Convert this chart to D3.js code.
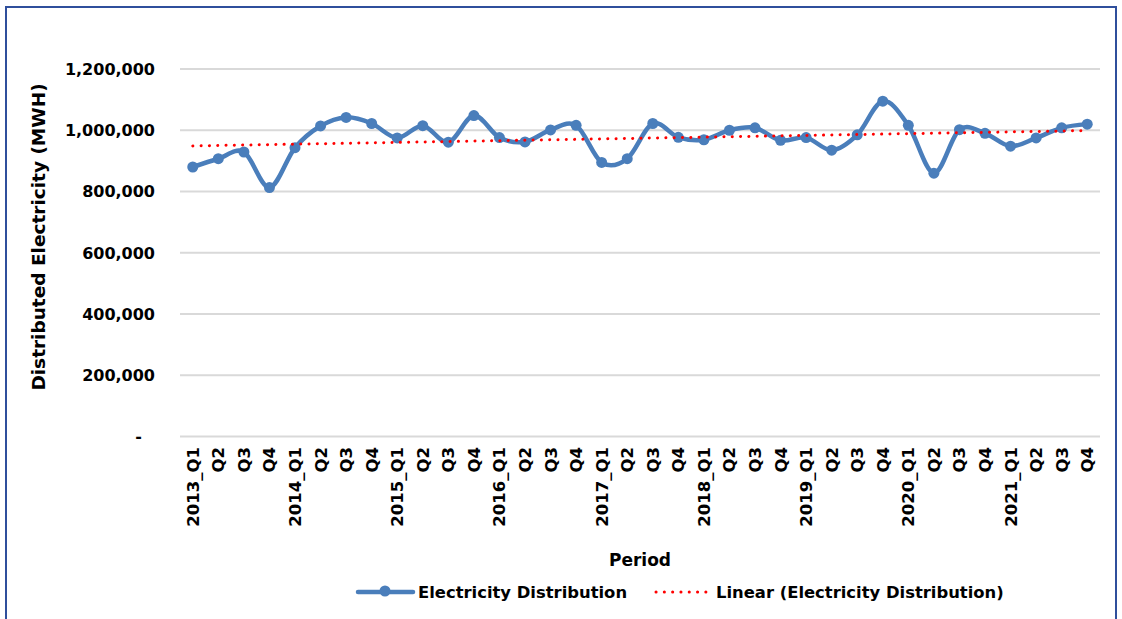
<!DOCTYPE html>
<html>
<head>
<meta charset="utf-8">
<script src="https://cdn.jsdelivr.net/npm/d3@7"></script>
<style>
  body { margin: 0; background: #fff; }
  svg text { font-family: "DejaVu Sans", sans-serif; font-weight: bold; fill: #000; }
</style>
</head>
<body>
<svg id="chart" width="1122" height="619"></svg>
<script>
"use strict";
const periods = [
    "2013_Q1", "Q2", "Q3", "Q4",
    "2014_Q1", "Q2", "Q3", "Q4",
    "2015_Q1", "Q2", "Q3", "Q4",
    "2016_Q1", "Q2", "Q3", "Q4",
    "2017_Q1", "Q2", "Q3", "Q4",
    "2018_Q1", "Q2", "Q3", "Q4",
    "2019_Q1", "Q2", "Q3", "Q4",
    "2020_Q1", "Q2", "Q3", "Q4",
    "2021_Q1", "Q2", "Q3", "Q4"
];
const distribution = [
    880000, 907000, 929000, 813000,
    943000, 1014000, 1042000, 1022000,
    975000, 1015000, 961000, 1048000,
    976000, 962000, 1001000, 1016000,
    895000, 907000, 1022000, 977000,
    969000, 1000000, 1008000, 967000,
    976000, 935000, 985000, 1095000,
    1016000, 860000, 1002000, 990000,
    948000, 975000, 1008000, 1020000
];
const yTicks = [0, 200000, 400000, 600000, 800000, 1000000, 1200000];

const width = 1122;
const height = 619;
const svg = d3.select('#chart');

// outer frame
svg.append('rect')
    .attr('x', 6).attr('y', 7)
    .attr('width', 1110).attr('height', 640)
    .attr('fill', 'none')
    .attr('stroke', '#2f4f9c')
    .attr('stroke-width', 2);

const keys = periods.map((p, i) => i);
const x = d3.scalePoint()
    .domain(keys)
    .range([180, 1100])
    .padding(0.5);
const y = d3.scaleLinear()
    .domain([0, 1200000])
    .range([436.5, 69]);

// gridlines
svg.append('g')
    .selectAll('line')
    .data(yTicks)
    .join('line')
    .attr('x1', 180).attr('x2', 1100)
    .attr('y1', d => y(d)).attr('y2', d => y(d))
    .attr('stroke', '#d9d9d9')
    .attr('stroke-width', 2);

// y axis labels
const fmt = d3.format(',');
svg.append('g')
    .selectAll('text')
    .data(yTicks)
    .join('text')
    .attr('x', d => d === 0 ? 142 : 155)
    .attr('y', d => y(d))
    .attr('dy', '0.36em')
    .attr('text-anchor', 'end')
    .style('font-size', '16px')
    .text(d => d === 0 ? '-' : fmt(d));

// x axis labels (rotated)
svg.append('g')
    .selectAll('text')
    .data(keys)
    .join('text')
    .attr('transform', d => `translate(${x(d) + 6},447) rotate(-90)`)
    .attr('text-anchor', 'end')
    .style('font-size', '16.5px')
    .text(d => periods[d]);

// axis titles
svg.append('text')
    .attr('transform', 'translate(45,237) rotate(-90)')
    .attr('text-anchor', 'middle')
    .style('font-size', '18.5px')
    .text('Distributed Electricity (MWH)');
svg.append('text')
    .attr('x', 640).attr('y', 566)
    .attr('text-anchor', 'middle')
    .style('font-size', '17px')
    .text('Period');

// linear trend (least squares over the series)
const n = distribution.length;
const mx = d3.mean(keys);
const my = d3.mean(distribution);
const slope = d3.sum(keys, i => (i - mx) * (distribution[i] - my)) / d3.sum(keys, i => (i - mx) * (i - mx));
const icpt = my - slope * mx;

// series line
const line = d3.line()
    .x(d => x(d))
    .y(d => y(distribution[d]))
    .curve(d3.curveCatmullRom.alpha(0));
svg.append('path')
    .datum(keys)
    .attr('d', line)
    .attr('fill', 'none')
    .attr('stroke', '#4a7ebb')
    .attr('stroke-width', 4.5)
    .attr('stroke-linejoin', 'round');
svg.append('g')
    .selectAll('circle')
    .data(keys)
    .join('circle')
    .attr('cx', d => x(d))
    .attr('cy', d => y(distribution[d]))
    .attr('r', 5.5)
    .attr('fill', '#4a7ebb');

svg.append('line')
    .attr('x1', x(0)).attr('x2', x(n - 1))
    .attr('y1', y(icpt)).attr('y2', y(icpt + slope * (n - 1)))
    .attr('stroke', '#ff0000')
    .attr('stroke-width', 3)
    .attr('stroke-linecap', 'round')
    .attr('stroke-dasharray', '0.1 8.2');

// legend
const lg = svg.append('g');
lg.append('line')
    .attr('x1', 358).attr('x2', 413).attr('y1', 592).attr('y2', 592)
    .attr('stroke', '#4a7ebb').attr('stroke-width', 4.5).attr('stroke-linecap', 'round');
lg.append('circle').attr('cx', 385).attr('cy', 591).attr('r', 5.5).attr('fill', '#4a7ebb');
lg.append('text').attr('x', 418).attr('y', 598).style('font-size', '16.4px').text('Electricity Distribution');
lg.append('line')
    .attr('x1', 656).attr('x2', 708).attr('y1', 592).attr('y2', 592)
    .attr('stroke', '#ff0000').attr('stroke-width', 3)
    .attr('stroke-linecap', 'round').attr('stroke-dasharray', '0.1 8.2');
lg.append('text').attr('x', 716).attr('y', 598).style('font-size', '16.4px').text('Linear (Electricity Distribution)');
</script>
</body>
</html>
